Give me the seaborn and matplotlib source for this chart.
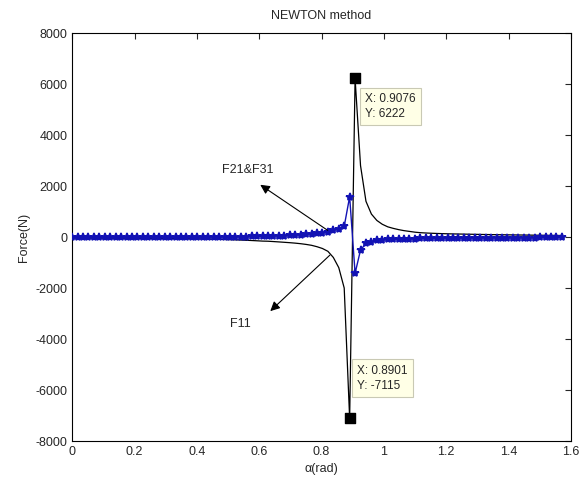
import numpy as np
import matplotlib
matplotlib.use("Agg")
import matplotlib.pyplot as plt
import seaborn as sns
from matplotlib.ticker import FormatStrFormatter

# sample angles, 1 degree steps from 0 to 90 deg
angle_deg = np.arange(0, 91)
alpha = np.radians(angle_deg)

# F11 (black curve)
f11 = [
    -40, -40, -41, -41, -42, -42, -43, -44, -45, -46,
    -47, -48, -49, -50, -52, -53, -55, -57, -59, -61,
    -63, -66, -69, -72, -76, -80, -85, -90, -96, -103,
    -110, -118, -127, -137, -148, -160, -165, -178, -192, -207,
    -222, -240, -262, -290, -325, -380, -450, -560, -800, -1200,
    -2000, -7115, 6222, 2800, 1400, 900, 650, 500, 400, 340,
    290, 250, 220, 190, 170, 158, 148, 140, 133, 127,
    122, 118, 114, 110, 106, 102, 98, 95, 92, 89,
    86, 83, 80, 78, 75, 72, 70, 67, 65, 62,
    60,
]

# F21 & F31 (blue curve with markers)
f21 = [
    -18, -18, -18, -17, -17, -17, -16, -16, -15, -15,
    -14, -14, -13, -12, -12, -11, -10, -9, -8, -7,
    -6, -5, -4, -2, -1, 1, 3, 5, 7, 10,
    12, 15, 18, 22, 26, 30, 35, 41, 48, 56,
    65, 76, 89, 104, 122, 145, 175, 215, 265, 330,
    420, 1580, -1420, -510, -250, -180, -130, -110, -95, -85,
    -77, -70, -64, -59, -55, -51, -48, -45, -42, -40,
    -38, -36, -34, -32, -31, -29, -28, -27, -26, -25,
    -24, -23, -22, -21, -20, -19, -18, -17, -16, -15,
    -14,
]

# data tips
tips_x = [0.9076, 0.8901]
tips_y = [6222, -7115]

sns.set_style("white")
plt.rcParams["font.family"] = ["Liberation Sans", "DejaVu Sans"]
plt.rcParams["axes.unicode_minus"] = False

fig = plt.figure(figsize=(5.82, 4.82), dpi=100)
ax = fig.add_axes([0.124, 0.085, 0.857, 0.8465])

blue = "#1212b4"
sns.lineplot(x=alpha, y=f11, color="black", linewidth=0.9, ax=ax, zorder=2)
sns.lineplot(x=alpha, y=f21, color=blue, linewidth=1.0, marker="*",
             markersize=6, markeredgewidth=1.2, markeredgecolor=blue, ax=ax, zorder=3)

# data tip markers and boxes
ax.scatter(tips_x, tips_y, marker="s", s=45, color="black", zorder=5)
tip_box = dict(boxstyle="square,pad=0.45", facecolor="#ffffe6", edgecolor="#c9c9b4", linewidth=0.8)
ax.text(0.940, 5650, f"X: {tips_x[0]}\nY: {tips_y[0]}", fontsize=8.5, ha="left", va="top",
        bbox=tip_box, zorder=6, linespacing=1.35)
ax.text(0.915, -5000, f"X: {tips_x[1]}\nY: {tips_y[1]}", fontsize=8.5, ha="left", va="top",
        bbox=tip_box, zorder=6, linespacing=1.35)

# arrows with labels
arrow = dict(arrowstyle="-|>", color="black", linewidth=0.8, mutation_scale=14)
ax.annotate("", xy=(0.596, 2110), xytext=(0.827, 200), arrowprops=arrow)
ax.text(0.564, 2620, "F21&F31", fontsize=9, ha="center", va="center")
ax.annotate("", xy=(0.629, -2980), xytext=(0.833, -637), arrowprops=arrow)
ax.text(0.539, -3400, "F11", fontsize=9, ha="center", va="center")

ax.set_xlim(0, 1.6)
ax.set_ylim(-8000, 8000)
ax.set_xticks(np.arange(0, 1.61, 0.2))
ax.set_yticks(np.arange(-8000, 8001, 2000))
ax.xaxis.set_major_formatter(FormatStrFormatter("%g"))
ax.tick_params(direction="in", top=True, right=True, length=4, labelsize=9, width=0.8)
for s in ax.spines.values():
    s.set_linewidth(0.8)
    s.set_color("black")

ax.set_title("NEWTON method", fontsize=9, pad=10)
ax.set_xlabel("\u03b1(rad)", fontsize=9)
ax.set_ylabel("Force(N)", fontsize=9)

fig.savefig("out.png", dpi=100, facecolor="white")
